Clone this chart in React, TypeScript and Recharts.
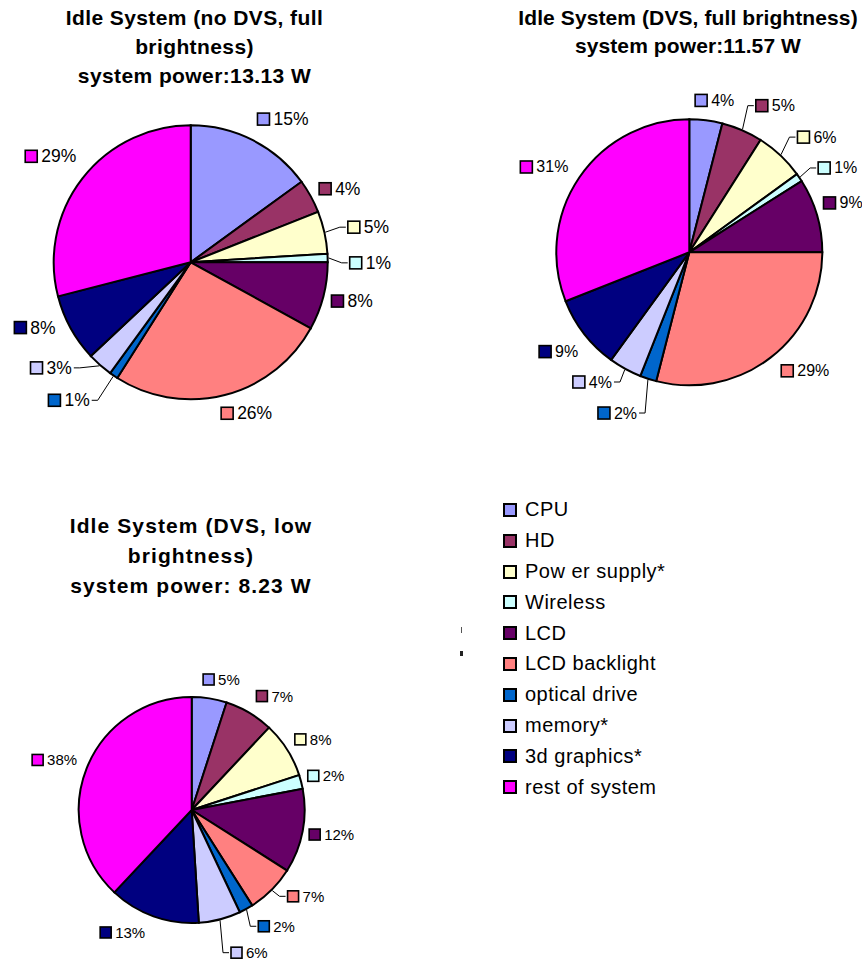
import React from 'react';
import { PieChart, Pie, Cell } from 'recharts';

const categories = [
  'CPU',
  'HD',
  'Pow er supply*',
  'Wireless',
  'LCD',
  'LCD backlight',
  'optical drive',
  'memory*',
  '3d graphics*',
  'rest of system',
];
const colors = ['#9999FF', '#993366', '#FFFFCC', '#CCFFFF', '#660066', '#FF8080', '#0066CC', '#CCCCFF', '#000080', '#FF00FF'];

// share of system power (%) per component
const noDvsFull = [15, 4, 5, 1, 8, 26, 1, 3, 8, 29];
const dvsFull = [4, 5, 6, 1, 9, 29, 2, 4, 9, 31];
const dvsLow = [5, 7, 8, 2, 12, 7, 2, 6, 13, 38];

const titleNoDvsFull = ['Idle System (no DVS, full', 'brightness)', 'system power:13.13 W'];
const titleDvsFull = ['Idle System (DVS, full brightness)', 'system power:11.57 W'];
const titleDvsLow = ['Idle System (DVS, low', 'brightness)', 'system power: 8.23 W'];

// where the data labels sit (distance from centre, small turn in degrees),
// and which ones got a leader line in the original sheet
const labelDist1 = [158, 148, 161, 159, 146, 154, 171, 159, 150, 156];
const labelTurn1 = [-2, -1, 0, 2, 1, 3, 2, 7, 3, 5];
const leaders1 = [2, 3, 6, 7];

const labelDist2 = [152, 161, 158, 154, 143, 150, 169, 151, 149, 148];
const labelTurn2 = [-5, 1, 0, 1, -4, 0, 0, 2, -4, 1];
const leaders2 = [1, 2, 3, 6, 7];

const labelDist3 = [131, 131, 125, 121, 120, 129, 134, 148, 131, 125];
const labelTurn3 = [-4, -1, -2, -2, 1, -3, -1, -1, 1, 2];
const leaders3 = [5, 6, 7];

const FONT = "'Liberation Sans', Arial, Helvetica, sans-serif";

function textWidth(s: string, fs: number) {
  let w = 0;
  for (const ch of s) w += ch === '%' ? 0.889 : 0.556;
  return w * fs;
}

function makeLabel(dist: number[], turn: number[], leaders: number[], fontSize: number, box: number) {
  return (props: any) => {
    const { cx, cy, midAngle, outerRadius, value } = props;
    const i = props.index ?? categories.indexOf(props.name);
    const a = 90 - midAngle; // clockwise from 12 o'clock
    const t = ((a + turn[i]) * Math.PI) / 180;
    const x = cx + dist[i] * Math.sin(t);
    const y = cy - dist[i] * Math.cos(t);
    const right = x >= cx;
    const txt = `${value}%`;
    const tw = textWidth(txt, fontSize);
    const gap = 4;
    const sqX = right ? x : x - tw - gap - box;
    const txX = right ? x + box + gap : x;

    let line = null;
    if (leaders.includes(i)) {
      const a0 = (a * Math.PI) / 180;
      const ex = cx + (outerRadius + 1) * Math.sin(a0);
      const ey = cy - (outerRadius + 1) * Math.cos(a0);
      const s = right ? -1 : 1;
      line = (
        <polyline
          points={`${ex},${ey} ${x + s * 8},${y} ${x + s * 2},${y}`}
          fill="none"
          stroke="#000"
          strokeWidth={1}
        />
      );
    }

    return (
      <g key={`lbl-${i}`}>
        {line}
        <rect x={sqX} y={y - box / 2} width={box} height={box} fill={colors[i]} stroke="#000" strokeWidth={1.6} />
        <text
          x={txX}
          y={y}
          textAnchor={right ? 'start' : 'end'}
          dominantBaseline="central"
          fontSize={fontSize}
          fontFamily={FONT}
          fill="#000"
        >
          {txt}
        </text>
      </g>
    );
  };
}

const toRows = (values: number[]) => categories.map((name, i) => ({ name, value: values[i] }));

function Title({ lines, x, top, lineHeight, spacing }: { lines: string[]; x: number; top: number; lineHeight: number; spacing: number }) {
  return (
    <div
      style={{
        position: 'absolute',
        left: x - 250,
        top,
        width: 500,
        textAlign: 'center',
        fontFamily: FONT,
        fontWeight: 'bold',
        fontSize: 21,
        lineHeight: `${lineHeight}px`,
        letterSpacing: spacing,
        color: '#000',
      }}
    >
      {lines.map((l) => (
        <div key={l}>{l}</div>
      ))}
    </div>
  );
}

export default function App() {
  const pies = [
    { key: 'a', values: noDvsFull, cx: 190.7, cy: 262.3, r: 137, fs: 17.5, box: 12, dist: labelDist1, turn: labelTurn1, leaders: leaders1 },
    { key: 'b', values: dvsFull, cx: 689.3, cy: 252.3, r: 133, fs: 16, box: 12, dist: labelDist2, turn: labelTurn2, leaders: leaders2 },
    { key: 'c', values: dvsLow, cx: 191.7, cy: 810, r: 113, fs: 15, box: 11, dist: labelDist3, turn: labelTurn3, leaders: leaders3 },
  ];

  return (
    <div
      style={{
        position: 'absolute',
        left: 0,
        top: 0,
        width: 862,
        height: 964,
        overflow: 'hidden',
        background: '#fff',
      }}
    >
      <PieChart width={862} height={964} margin={{ top: 0, right: 0, bottom: 0, left: 0 }}>
        {pies.map((p) => (
          <Pie
            key={p.key}
            data={toRows(p.values)}
            dataKey="value"
            nameKey="name"
            cx={p.cx}
            cy={p.cy}
            outerRadius={p.r}
            startAngle={90}
            endAngle={-270}
            stroke="#000"
            strokeWidth={2}
            label={makeLabel(p.dist, p.turn, p.leaders, p.fs, p.box)}
            labelLine={false}
            isAnimationActive={false}
          >
            {p.values.map((_, i) => (
              <Cell key={i} fill={colors[i]} />
            ))}
          </Pie>
        ))}
      </PieChart>

      <Title lines={titleNoDvsFull} x={194.5} top={3.2} lineHeight={29} spacing={0.4} />
      <Title lines={titleDvsFull} x={688} top={3.7} lineHeight={28} spacing={0.1} />
      <Title lines={titleDvsLow} x={191} top={511} lineHeight={30} spacing={1.1} />

      {/* legend shared by the three pies */}
      <div style={{ position: 'absolute', left: 503, top: 494.6, fontFamily: FONT, fontSize: 20, letterSpacing: 0.5 }}>
        {categories.map((c, i) => (
          <div key={c} style={{ height: 30.8, display: 'flex', alignItems: 'center' }}>
            <div style={{ width: 10, height: 10, border: '2px solid #000', background: colors[i], marginRight: 8 }} />
            <span>{c}</span>
          </div>
        ))}
      </div>

      <div style={{ position: 'absolute', left: 461, top: 627, width: 1, height: 6, background: '#555' }} />
      <div style={{ position: 'absolute', left: 460, top: 651, width: 3, height: 5, background: '#222' }} />
    </div>
  );
}
